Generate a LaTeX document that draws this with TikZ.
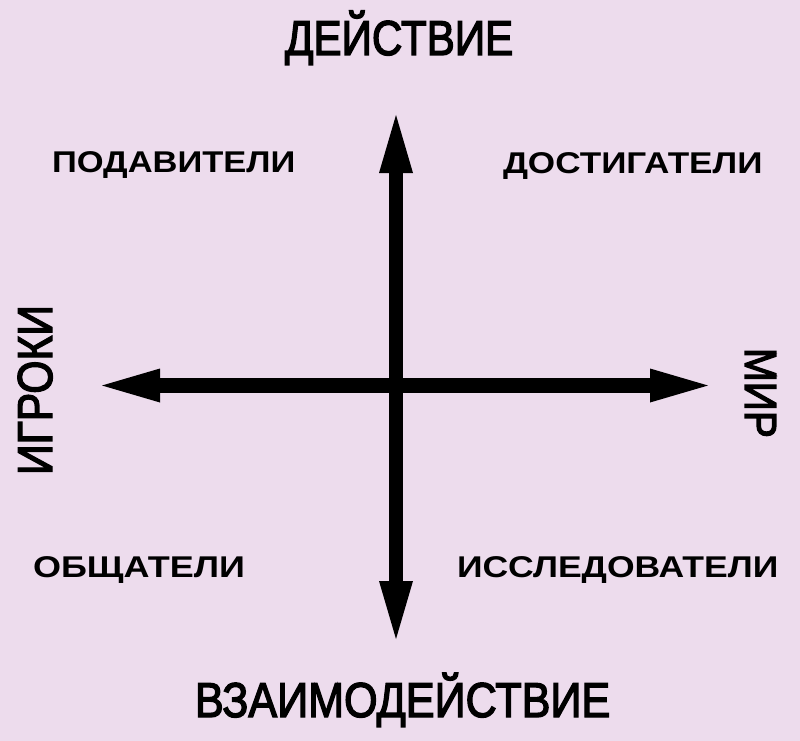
\documentclass[tikz,border=0pt]{standalone}
\usepackage{fontspec}
\setmainfont{Liberation Sans}
\newfontfamily\medfont[FakeBold=3]{Liberation Sans}
\usetikzlibrary{arrows.meta}
\definecolor{bg}{RGB}{237,220,237}
\tikzset{
  axis/.style={line width=14.5pt, black,
    arrows={Triangle[length=58pt,width=34pt,line width=0pt]-Triangle[length=58pt,width=34pt,line width=0pt]}},
  biglabel/.style={font=\medfont\fontsize{49}{49}\selectfont, inner sep=0pt, outer sep=0pt},
  typelabel/.style={font=\bfseries\fontsize{30}{30}\selectfont, inner sep=0pt, outer sep=0pt, anchor=base west},
}
\begin{document}
\begin{tikzpicture}[x=1pt,y=-1pt]
\fill[bg] (0,0) rectangle (800,741);
\useasboundingbox (0,0) rectangle (800,741);
\coordinate (top) at (396,115);
\coordinate (bottom) at (396,639);
\coordinate (left) at (102,385.5);
\coordinate (right) at (708,385.5);
\draw[axis] (left) -- (right);
\draw[axis] (top) -- (bottom);
\node[biglabel, anchor=base west] (action) at (285,55) {\scalebox{0.86}[1]{ДЕЙСТВИЕ}};
\node[biglabel, anchor=base west] (interaction) at (195,717) {\scalebox{0.88}[1]{ВЗАИМОДЕЙСТВИЕ}};
\node[biglabel, anchor=base west, rotate=90] (players) at (52,475) {\scalebox{0.87}[1]{ИГРОКИ}};
\node[biglabel, anchor=base west, rotate=-90, font=\medfont\fontsize{45}{45}\selectfont] (world) at (745,348) {\scalebox{0.9}[1]{МИР}};
\node[typelabel] (killers) at (52,172) {\scalebox{1.15}[1]{ПОДАВИТЕЛИ}};
\node[typelabel] (achievers) at (503,173) {\scalebox{1.17}[1]{ДОСТИГАТЕЛИ}};
\node[typelabel] (socializers) at (33,577) {\scalebox{1.2}[1]{ОБЩАТЕЛИ}};
\node[typelabel] (explorers) at (457,577) {\scalebox{1.185}[1]{ИССЛЕДОВАТЕЛИ}};
\end{tikzpicture}
\end{document}
